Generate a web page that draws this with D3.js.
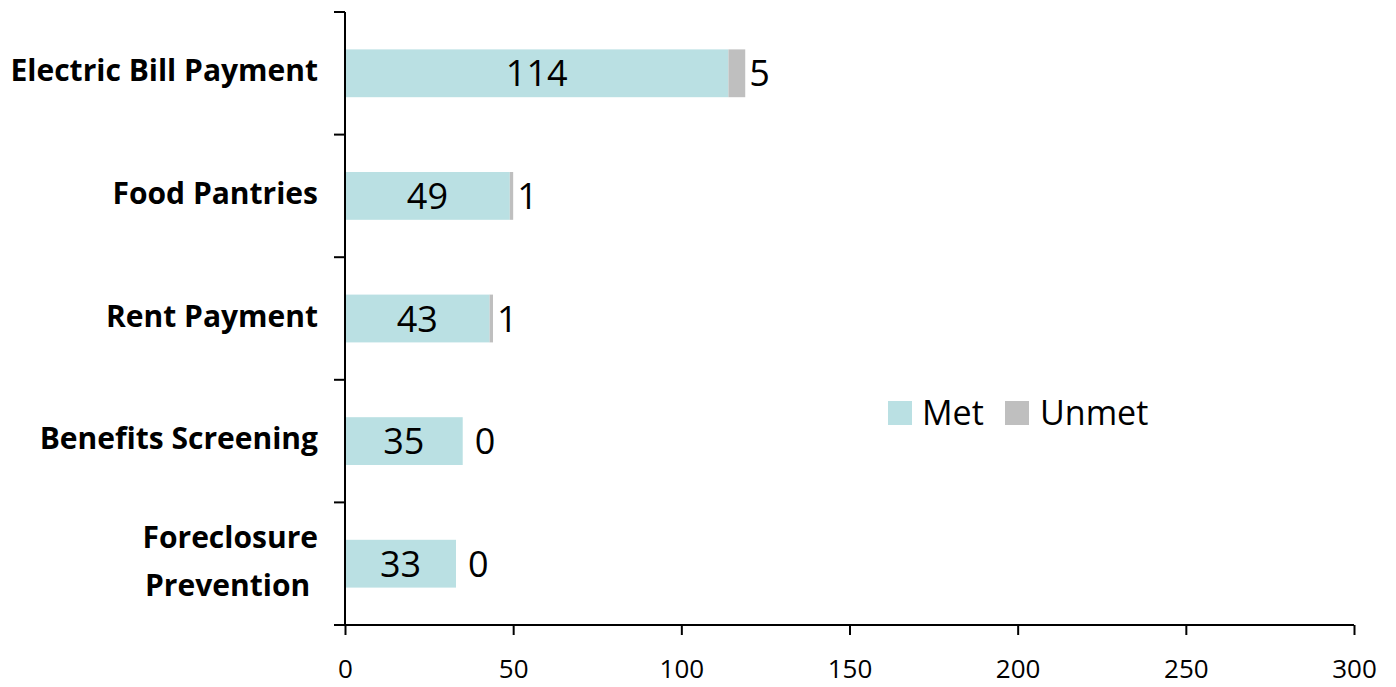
<!DOCTYPE html>
<html>
<head>
<meta charset="utf-8">
<script src="https://cdn.jsdelivr.net/npm/d3@7"></script>
<style>
  html, body { margin: 0; padding: 0; background: #fff; }
  svg { display: block; }
  text { font-family: "Open Sans", "DejaVu Sans", sans-serif; fill: #000; }
</style>
</head>
<body>
<svg id="chart" width="1396" height="687"></svg>
<script>
// Service requests by category: met vs. unmet
const categories = ["Electric Bill Payment", "Food Pantries", "Rent Payment", "Benefits Screening", "Foreclosure Prevention"];
const categoryLines = [["Electric Bill Payment"], ["Food Pantries"], ["Rent Payment"], ["Benefits Screening"], ["Foreclosure", "Prevention\u00A0"]];
const metValues = [114, 49, 43, 35, 33];
const unmetValues = [5, 1, 1, 0, 0];
const xTicks = [0, 50, 100, 150, 200, 250, 300];
const seriesNames = ["Met", "Unmet"];
const seriesColors = ["#BAE0E3", "#BFBFBF"];

const svg = d3.select("#chart");
const plot = { left: 345, right: 1354, top: 12, bottom: 625 };

const x = d3.scaleLinear().domain([0, 300]).range([plot.left, plot.right]);
const y = d3.scaleBand().domain(categories).range([plot.top, plot.bottom])
  .paddingInner(0.61).paddingOuter(0.305);

const rows = categories.map((c, i) => ({ cat: c, lines: categoryLines[i], met: metValues[i], unmet: unmetValues[i] }));

// Bars
const g = svg.append("g");
rows.forEach(r => {
  g.append("rect")
    .attr("x", x(0)).attr("y", y(r.cat))
    .attr("width", x(r.met) - x(0)).attr("height", y.bandwidth())
    .attr("fill", seriesColors[0]);
  g.append("rect")
    .attr("x", x(r.met)).attr("y", y(r.cat))
    .attr("width", x(r.met + r.unmet) - x(r.met)).attr("height", y.bandwidth())
    .attr("fill", seriesColors[1]);
});

// Value labels
rows.forEach(r => {
  const cy = y(r.cat) + y.bandwidth() / 2;
  g.append("text")
    .attr("x", (x(0) + x(r.met)) / 2).attr("y", cy + 13)
    .attr("text-anchor", "middle").style("font-size", "36px")
    .text(r.met);
  g.append("text")
    .attr("x", x(r.met + r.unmet) + (r.unmet > 0 ? 4 : 12)).attr("y", cy + 13)
    .attr("text-anchor", "start").style("font-size", "36px")
    .text(r.unmet);
});

// Category axis
const boundaries = d3.range(categories.length + 1).map(i => plot.top + i * (plot.bottom - plot.top) / categories.length);
svg.append("line")
  .attr("x1", plot.left).attr("x2", plot.left)
  .attr("y1", plot.top).attr("y2", plot.bottom)
  .attr("stroke", "#000").attr("stroke-width", 2);
svg.selectAll(".ytick").data(boundaries).enter().append("line")
  .attr("x1", plot.left - 11).attr("x2", plot.left)
  .attr("y1", d => d).attr("y2", d => d)
  .attr("stroke", "#000").attr("stroke-width", 2);

rows.forEach(r => {
  const cy = y(r.cat) + y.bandwidth() / 2;
  const n = r.lines.length;
  const t = svg.append("text")
    .attr("text-anchor", "end")
    .style("font-size", "30px").style("font-weight", "700");
  r.lines.forEach((line, i) => {
    t.append("tspan")
      .attr("x", 318)
      .attr("y", cy + 8 + (i - (n - 1) / 2) * 48)
      .text(line);
  });
});

// Value axis
const xAxis = svg.append("g")
  .attr("transform", `translate(0,${plot.bottom})`)
  .call(d3.axisBottom(x).tickValues(xTicks).tickSize(10).tickPadding(0).tickSizeOuter(0));
xAxis.select(".domain").attr("stroke", "#000").attr("stroke-width", 2)
  .attr("d", `M${plot.left - 11},0H${plot.right}`);
xAxis.selectAll(".tick line").attr("stroke", "#000").attr("stroke-width", 2);
xAxis.selectAll(".tick text")
  .attr("y", 53).attr("dy", null)
  .style("font-size", "26px").style("font-family", "'Open Sans', sans-serif").attr("fill", "#000");

// Legend
const legend = svg.append("g");
const legendItems = [{ x: 888, tx: 922 }, { x: 1005, tx: 1040 }];
seriesNames.forEach((name, i) => {
  legend.append("rect")
    .attr("x", legendItems[i].x).attr("y", 401)
    .attr("width", 24).attr("height", 24)
    .attr("fill", seriesColors[i]);
  legend.append("text")
    .attr("x", legendItems[i].tx).attr("y", 425)
    .style("font-size", "34px")
    .text(name);
});
</script>
</body>
</html>
